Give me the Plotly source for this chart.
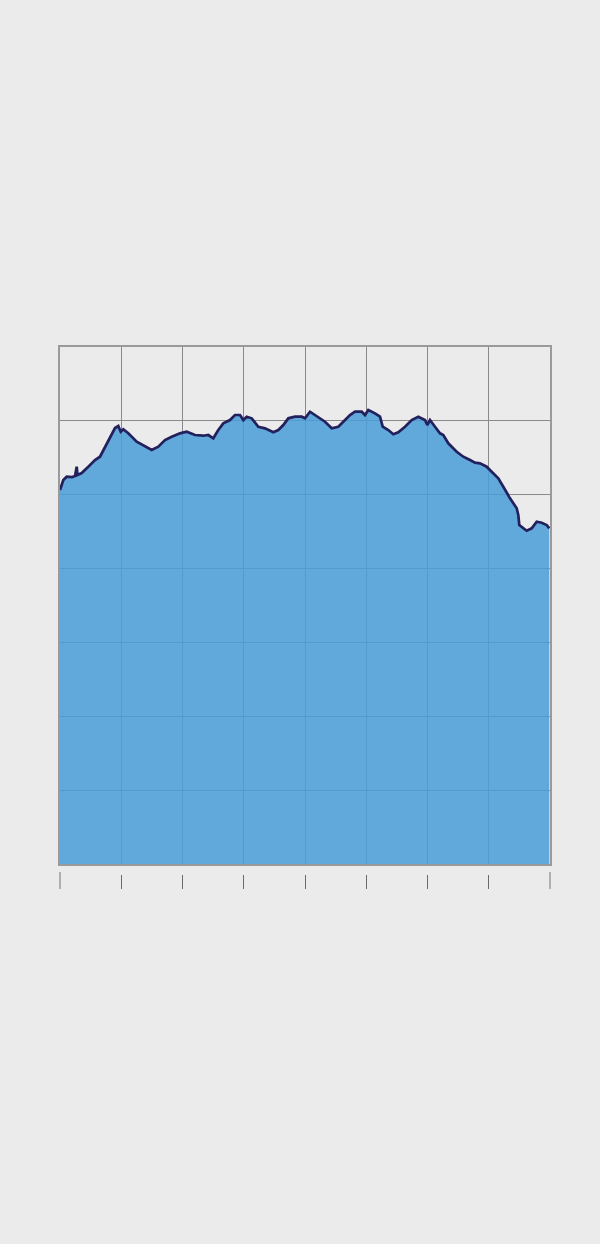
import plotly.graph_objects as go

# traced pixel positions converted to data units (x: 0..8, y: 0..7)
px_x = [60, 63.3, 66.7, 72, 75, 76.7, 77.5, 81.7, 88.3, 95, 100, 105, 110, 115, 118.3, 120.7, 123.3,
        128.3, 136.7, 143.3, 151.7, 158.3, 165, 171.7, 180, 186.7, 195, 203.3, 208.3, 213.3,
        218.3, 223.3, 230, 235, 240, 243.3, 246.7, 251.7, 258.3, 265, 273.3, 278.3, 283.3,
        288.3, 295, 301.7, 305, 310, 315, 320, 325, 331.7, 338.3, 343.3, 350, 355, 361.7,
        365, 368.3, 375, 380, 382.7, 388.3, 393.3, 398.3, 405, 411.7, 418.3, 423.3, 425,
        427.3, 430, 435, 440, 443.3, 448.3, 456.7, 463.3, 470, 475, 480, 486.7, 491.7, 498.3,
        503.3, 510, 516.7, 518.3, 519.3, 523.3, 526.7, 531.7, 536.7, 541.7, 546.7, 549.3]
px_y = [490, 480, 476.7, 477, 476, 466.7, 475, 473, 466.7, 460, 456.7, 446.7, 436.7, 428, 426, 431.7, 429.3,
        433.3, 441.7, 445, 450, 446.7, 440, 436.7, 433.3, 431.7, 435, 435.7, 435, 438.3,
        430, 423.3, 420, 415, 415, 420, 416.7, 418.3, 426.7, 428.3, 432.3, 430, 425,
        418.3, 416.7, 416.7, 418.3, 411.7, 415, 419, 421.7, 428.3, 426.7, 421.7, 415, 411.7, 411.7,
        415, 410, 413.3, 416.7, 426.7, 430, 434.3, 432.3, 426.7, 420, 416.7, 419, 420,
        425, 420, 426.7, 433.3, 435, 443.3, 451.7, 456.7, 460, 462.7, 463.3, 466.7, 471.7, 478.3,
        486.7, 498.3, 508.3, 515, 525, 528.3, 530.7, 528.3, 521.7, 522.7, 525, 528.3]

x_vals = [round((p - 60) / 61.25, 4) for p in px_x]
y_vals = [round((864 - p) / 73.86, 4) for p in px_y]
x_ticks = [0, 1, 2, 3, 4, 5, 6, 7, 8]

fig = go.Figure()
fig.add_trace(go.Scatter(
    x=x_vals, y=y_vals, mode="lines", fill="tozeroy",
    fillcolor="rgba(76,158,217,0.86)",
    line=dict(color="#22215e", width=2.7),
    hoverinfo="skip", showlegend=False,
))
# anchor traces so the free tick axes are rendered
for ax in ("x2", "x3"):
    fig.add_trace(go.Scatter(x=[x_ticks[0], x_ticks[-1]], y=[None, None], xaxis=ax, yaxis="y",
                             mode="lines", hoverinfo="skip", showlegend=False))

H = 1244
mt, mb = 347, 300
ph = H - mt - mb
bottom_paper = (H - mb - 864) / ph

fig.update_layout(
    width=600, height=H,
    margin=dict(l=60, r=50, t=mt, b=mb),
    paper_bgcolor="#ebebeb", plot_bgcolor="#ebebeb",
    showlegend=False,
    xaxis=dict(range=[0, 8], dtick=1, showgrid=True, gridcolor="#8a8a8a", gridwidth=1,
               showline=True, linecolor="#9a9a9a", linewidth=1.5, mirror=True,
               showticklabels=False, ticks="", zeroline=False),
    yaxis=dict(range=[0, 7], dtick=1, showgrid=True, gridcolor="#8a8a8a", gridwidth=1,
               showline=True, linecolor="#9a9a9a", linewidth=1.5, mirror=True,
               showticklabels=False, ticks="", zeroline=False,
               domain=[bottom_paper, 1]),
    xaxis2=dict(overlaying="x", anchor="free", position=(H - mb - 871) / ph,
                range=[0, 8], tickmode="array", tickvals=[x_ticks[0], x_ticks[-1]],
                ticks="outside", ticklen=17, tickwidth=2, tickcolor="#b0b0b0",
                showgrid=False, showline=False, showticklabels=False, zeroline=False),
    xaxis3=dict(overlaying="x", anchor="free", position=(H - mb - 874) / ph,
                range=[0, 8], tickmode="array", tickvals=x_ticks[1:-1],
                ticks="outside", ticklen=14, tickwidth=1, tickcolor="#6a6a6a",
                showgrid=False, showline=False, showticklabels=False, zeroline=False),
)

fig.write_html(
    "out.html",
    config={"displayModeBar": False},
    post_script="document.body.style.margin='0';document.body.style.overflow='hidden';",
)
